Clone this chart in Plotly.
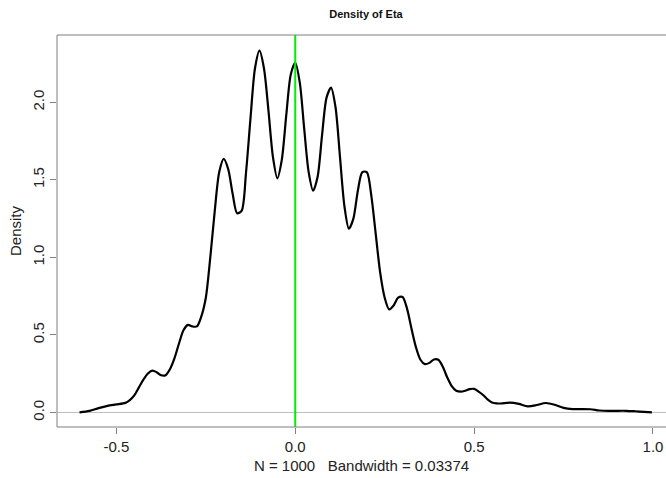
import plotly.graph_objects as go

# Density curve points
eta_x = [-0.603, -0.575, -0.550, -0.525, -0.500, -0.475, -0.4625, -0.450, -0.4375, -0.425,
         -0.4125, -0.400, -0.3875, -0.375, -0.3625, -0.350, -0.3375, -0.325, -0.3125, -0.300,
         -0.2875, -0.275, -0.2625, -0.250, -0.2375, -0.225, -0.2125, -0.200, -0.1875, -0.175,
         -0.1625, -0.150, -0.1375, -0.125, -0.1125, -0.100, -0.0875, -0.075, -0.0625, -0.050,
         -0.0375, -0.025, -0.0125, 0.000, 0.0125, 0.025, 0.0375, 0.050, 0.0625, 0.075,
         0.0875, 0.100, 0.1125, 0.125, 0.1375, 0.150, 0.1625, 0.175, 0.1875, 0.200,
         0.2125, 0.225, 0.2375, 0.250, 0.2625, 0.275, 0.2875, 0.300, 0.3125, 0.325,
         0.3375, 0.350, 0.3625, 0.375, 0.3875, 0.400, 0.4125, 0.425, 0.4375, 0.450,
         0.4625, 0.475, 0.4875, 0.500, 0.5125, 0.525, 0.5375, 0.550, 0.5625, 0.575,
         0.600, 0.625, 0.650, 0.675, 0.700, 0.725, 0.750, 0.775, 0.800, 0.825,
         0.850, 0.875, 0.900, 0.925, 0.950, 0.975, 0.997]
eta_density = [0.001, 0.010, 0.028, 0.043, 0.052, 0.062, 0.080, 0.110, 0.160, 0.210,
               0.250, 0.270, 0.260, 0.240, 0.240, 0.280, 0.350, 0.445, 0.530, 0.565,
               0.555, 0.555, 0.620, 0.740, 1.000, 1.300, 1.550, 1.635, 1.570, 1.410,
               1.285, 1.300, 1.550, 1.900, 2.220, 2.333, 2.220, 1.950, 1.650, 1.510,
               1.630, 1.920, 2.180, 2.255, 2.130, 1.830, 1.550, 1.430, 1.520, 1.790,
               2.030, 2.095, 1.970, 1.650, 1.330, 1.185, 1.250, 1.430, 1.550, 1.550,
               1.400, 1.150, 0.900, 0.740, 0.665, 0.690, 0.740, 0.745, 0.670, 0.540,
               0.420, 0.340, 0.312, 0.320, 0.342, 0.340, 0.295, 0.225, 0.170, 0.140,
               0.134, 0.140, 0.151, 0.152, 0.135, 0.113, 0.085, 0.065, 0.059, 0.058,
               0.063, 0.055, 0.040, 0.048, 0.061, 0.050, 0.030, 0.022, 0.022, 0.021,
               0.013, 0.010, 0.011, 0.011, 0.008, 0.004, 0.001]

x_ticks = [-0.5, 0.0, 0.5, 1.0]
x_tick_labels = ["-0.5", "0.0", "0.5", "1.0"]
y_ticks = [0.0, 0.5, 1.0, 1.5, 2.0]
y_tick_labels = ["0.0", "0.5", "1.0", "1.5", "2.0"]
true_value = 0.0

title_text = "Density of Eta"
x_label = "N = 1000   Bandwidth = 0.03374"
y_label = "Density"

FONT = "Liberation Sans, Arial, sans-serif"
AXIS_GRAY = "#7f7f7f"

fig = go.Figure()
fig.add_trace(go.Scatter(
    x=eta_x, y=eta_density, mode="lines",
    line=dict(color="black", width=2.2, shape="spline", smoothing=0.8),
    hoverinfo="skip", showlegend=False,
))

# zero reference line (light gray)
fig.add_shape(type="line", xref="paper", x0=0, x1=1, yref="y", y0=0, y1=0,
              line=dict(color="#bebebe", width=1), layer="below")
# green vertical line at the true value
fig.add_shape(type="line", xref="x", x0=true_value, x1=true_value, yref="paper", y0=0, y1=1,
              line=dict(color="#00ee00", width=2))
# box: left, top and bottom sides (right side lies outside the picture)
box_line = dict(color=AXIS_GRAY, width=1)
fig.add_shape(type="line", xref="paper", yref="paper", x0=0, x1=0, y0=0, y1=1, line=box_line)
fig.add_shape(type="line", xref="paper", yref="paper", x0=0, x1=1.01, y0=1, y1=1, line=box_line)
fig.add_shape(type="line", xref="paper", yref="paper", x0=0, x1=1.01, y0=0, y1=0, line=box_line)

fig.update_layout(
    width=666, height=478,
    margin=dict(l=57, r=0, t=35, b=51),
    paper_bgcolor="white", plot_bgcolor="white",
    font=dict(family=FONT, color="#222222"),
    title=dict(text="<b>" + title_text + "</b>", font=dict(size=11, family=FONT, color="#111111"),
               x=366 / 666, xref="container", xanchor="center",
               y=1 - 14 / 478, yref="container", yanchor="middle"),
    xaxis=dict(range=[-0.666, 1.0364], tickmode="array", tickvals=x_ticks, ticktext=x_tick_labels,
               ticks="outside", ticklen=6, tickcolor=AXIS_GRAY, tickwidth=1,
               showline=False, showgrid=False, zeroline=False,
               tickfont=dict(size=15, family=FONT, color="#222222"),
               title=dict(text=x_label, font=dict(size=15, family=FONT, color="#222222"), standoff=6)),
    yaxis=dict(range=[-0.0936, 2.434], tickmode="array", tickvals=y_ticks, ticktext=y_tick_labels,
               tickangle=-90,
               ticks="outside", ticklen=6, tickcolor=AXIS_GRAY, tickwidth=1,
               showline=False, showgrid=False, zeroline=False,
               tickfont=dict(size=15, family=FONT, color="#222222"),
               title=dict(text=y_label, font=dict(size=15, family=FONT, color="#222222"), standoff=4)),
)

fig.write_html("out.html")
